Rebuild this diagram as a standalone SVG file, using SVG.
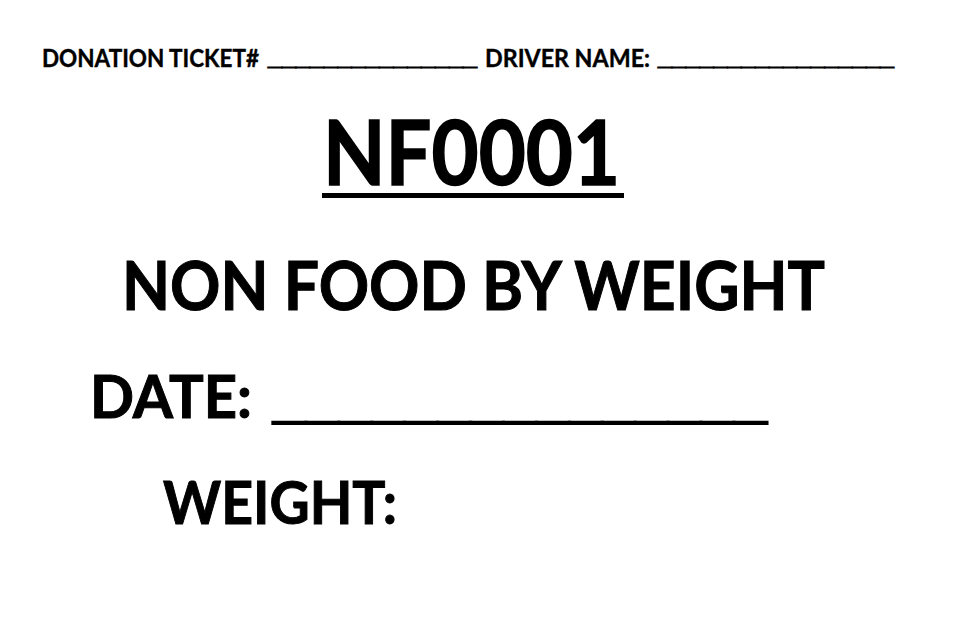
<svg xmlns="http://www.w3.org/2000/svg" width="967" height="642" viewBox="0 0 967 642">
<style>
text{font-family:Lato,"Open Sans","Liberation Sans",sans-serif;font-weight:bold;fill:#000}
.u{font-family:"Liberation Sans",Arial,sans-serif;stroke:#000}
.s{font-size:25px;stroke:#000;stroke-width:0.4px}
.s.u{stroke-width:1.2px}
.big{font-size:90px;stroke:#000;stroke-width:1.5px}
.t{font-size:67px;stroke:#000;stroke-width:1px}
.m{font-size:60px;stroke:#000;stroke-width:1px}
.m.u{stroke-width:2.2px}
</style>
<rect width="967" height="642" fill="#fff"/>
<g id="header">
<text class="s" x="42" y="67" textLength="217" lengthAdjust="spacingAndGlyphs">DONATION TICKET#</text>
<text class="s u" x="268" y="65" textLength="209" lengthAdjust="spacingAndGlyphs">_______________</text>
<text class="s" x="485" y="67" textLength="165" lengthAdjust="spacingAndGlyphs">DRIVER NAME:</text>
<text class="s u" x="658" y="65" textLength="236" lengthAdjust="spacingAndGlyphs">_________________</text>
</g>
<g id="code">
<text class="big" x="323" y="185" textLength="297" lengthAdjust="spacingAndGlyphs">NF0001</text>
<rect x="322" y="193" width="302" height="5"/>
</g>
<g id="title">
<text class="t" x="122" y="310" textLength="703" lengthAdjust="spacingAndGlyphs">NON FOOD BY WEIGHT</text>
</g>
<g id="date">
<text class="m" x="90" y="418" textLength="162" lengthAdjust="spacingAndGlyphs">DATE:</text>
<text class="m u" x="273" y="416.5" textLength="494" lengthAdjust="spacingAndGlyphs">_______________</text>
</g>
<g id="weight">
<text class="m" x="163" y="524" textLength="234" lengthAdjust="spacingAndGlyphs">WEIGHT:</text>
</g>
</svg>
